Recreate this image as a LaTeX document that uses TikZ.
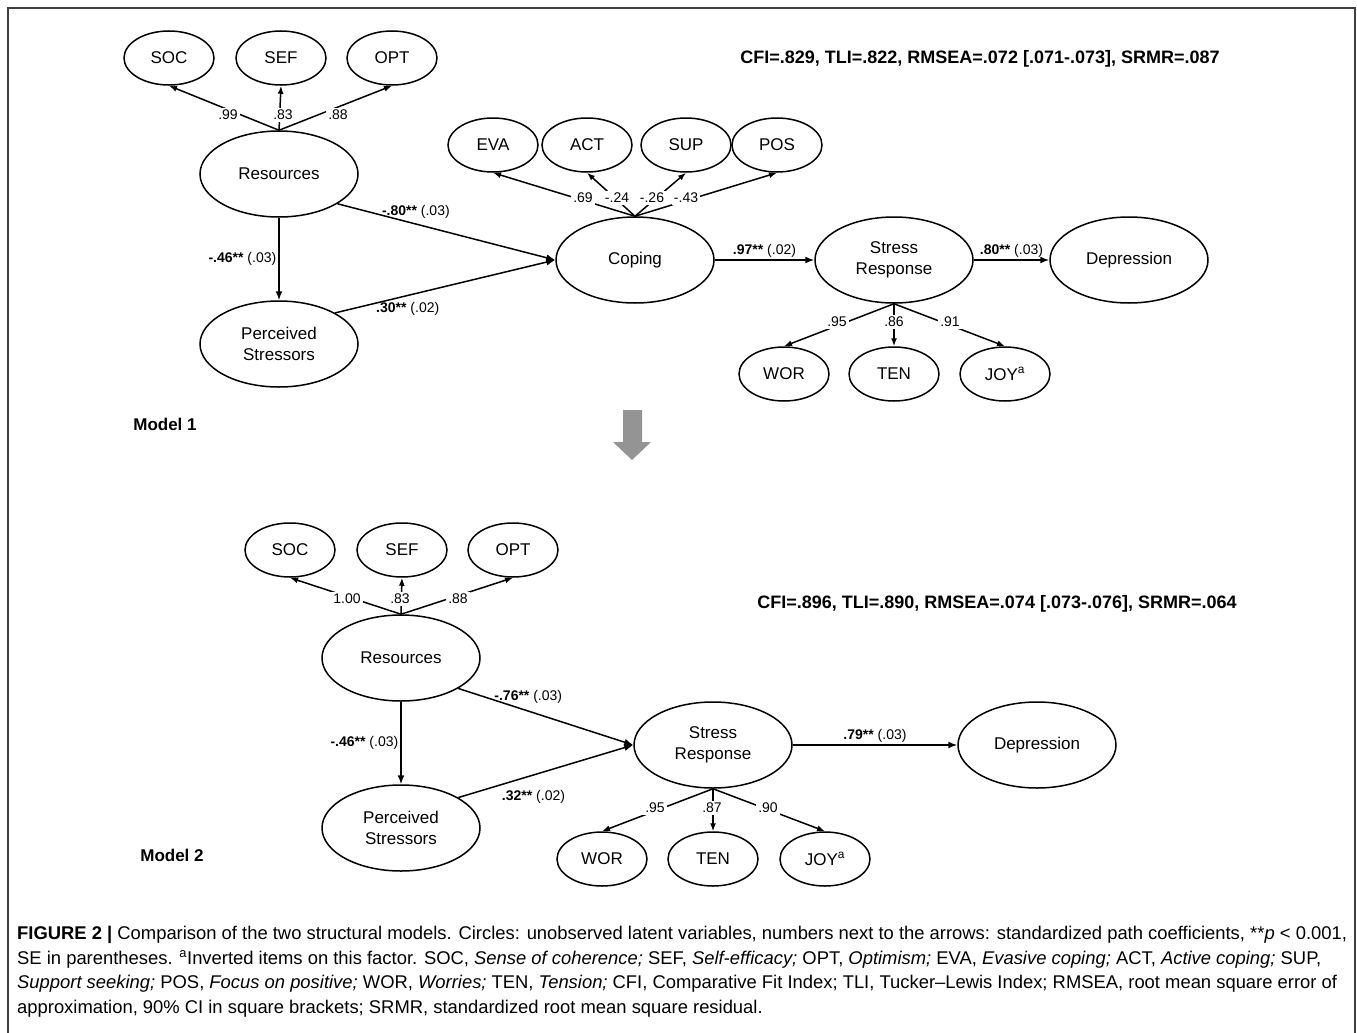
\documentclass[tikz,border=0pt]{standalone}
\usepackage{fontspec}
\setmainfont{Liberation Sans}
\usetikzlibrary{positioning,arrows.meta,shapes.geometric}

\begin{document}
\begin{tikzpicture}[x=1pt,y=-1pt,
  latent/.style={ellipse, draw, line width=1.5pt, minimum width=158pt, minimum height=86pt, inner sep=0pt, align=center, font=\fontsize{17}{21}\selectfont},
  item/.style={ellipse, draw, line width=1.5pt, minimum width=90pt, minimum height=54pt, inner sep=0pt, font=\fontsize{17}{21}\selectfont},
  coef/.style={font=\fontsize{14}{16}\selectfont, inner sep=2pt},
  load/.style={fill=white, font=\fontsize{14}{16}\selectfont, inner sep=2pt},
  arr/.style={-{Latex[length=9pt,width=7pt]}, line width=1.5pt},
  ld/.style={-{Latex[length=8pt,width=6pt]}, line width=1.5pt},
  fitidx/.style={font=\bfseries\fontsize{18}{20}\selectfont},
  modeltag/.style={font=\bfseries\fontsize{17}{20}\selectfont}
]
\useasboundingbox (0,0) rectangle (1357,1033);
\draw[black!75, line width=1.5pt] (8,1033) -- (8,8) -- (1355,8) -- (1355,1033);

% Model 1
\node[latent] (res1) at (279,174) {Resources};
\node[latent] (ps1) at (279,344) {Perceived\\Stressors};
\node[latent] (cop) at (635,260) {Coping};
\node[latent] (sr1) at (894,260) {Stress\\Response};
\node[latent] (dep1) at (1129,260) {Depression};

\node[item] (soc1) at (169,58) {SOC};
\node[item] (sef1) at (281,58) {SEF};
\node[item] (opt1) at (392,58) {OPT};
\node[item] (eva) at (493,145) {EVA};
\node[item] (act) at (587,145) {ACT};
\node[item] (sup) at (686,145) {SUP};
\node[item] (pos) at (777,145) {POS};
\node[item] (wor1) at (784,374) {WOR};
\node[item] (ten1) at (894,374) {TEN};
\node[item] (joy1) at (1005,374) {JOY\textsuperscript{a}};

\draw[ld] (res1.north) -- (soc1.south);
\draw[ld] (res1.north) -- (sef1.south);
\draw[ld] (res1.north) -- (opt1.south);
\draw[ld] (cop.north) -- (eva.south);
\draw[ld] (cop.north) -- (act.south);
\draw[ld] (cop.north) -- (sup.south);
\draw[ld] (cop.north) -- (pos.south);
\draw[ld] (sr1.south) -- (wor1.north);
\draw[ld] (sr1.south) -- (ten1.north);
\draw[ld] (sr1.south) -- (joy1.north);

\node[load] (l-soc1) at (228,115) {.99};
\node[load] (l-sef1) at (283,115) {.83};
\node[load] (l-opt1) at (338,115) {.88};
\node[load] (l-eva) at (583,198) {.69};
\node[load] (l-act) at (617,198) {-.24};
\node[load] (l-sup) at (652,198) {-.26};
\node[load] (l-pos) at (686,198) {-.43};
\node[load] (l-wor1) at (837,322) {.95};
\node[load] (l-ten1) at (894,322) {.86};
\node[load] (l-joy1) at (950,322) {.91};

\draw[arr] (res1.-27) -- node[coef, above, pos=0.36, yshift=3pt] {\textbf{-.80**} (.03)} (cop.west);
\draw[arr] (ps1.29) -- node[coef, below, pos=0.33, yshift=-4pt] {\textbf{.30**} (.02)} (cop.west);
\draw[arr] (res1) -- node[coef, left] {\textbf{-.46**} (.03)} (ps1);
\draw[arr] (cop) -- node[coef, above] {\textbf{.97**} (.02)} (sr1);
\draw[arr] (sr1) -- node[coef, above] {\textbf{.80**} (.03)} (dep1);

\node[fitidx] (fit1) at (980,59) {CFI=.829, TLI=.822, RMSEA=.072 [.071-.073], SRMR=.087};
\node[modeltag] (m1) at (165,424) {Model 1};

% change between the models
\fill[black!42] (623,410) -- (642,410) -- (642,442) -- (651,442) -- (632,460) -- (613,442) -- (623,442) -- cycle;

% Model 2
\node[latent] (res2) at (401,658) {Resources};
\node[latent] (ps2) at (401,828) {Perceived\\Stressors};
\node[latent] (sr2) at (713,745) {Stress\\Response};
\node[latent] (dep2) at (1037,745) {Depression};

\node[item] (soc2) at (290,550) {SOC};
\node[item] (sef2) at (402,550) {SEF};
\node[item] (opt2) at (513,550) {OPT};
\node[item] (wor2) at (602,859) {WOR};
\node[item] (ten2) at (713,859) {TEN};
\node[item] (joy2) at (825,859) {JOY\textsuperscript{a}};

\draw[ld] (res2.north) -- (soc2.south);
\draw[ld] (res2.north) -- (sef2.south);
\draw[ld] (res2.north) -- (opt2.south);
\draw[ld] (sr2.south) -- (wor2.north);
\draw[ld] (sr2.south) -- (ten2.north);
\draw[ld] (sr2.south) -- (joy2.north);

\node[load] (l-soc2) at (347,599) {1.00};
\node[load] (l-sef2) at (400,599) {.83};
\node[load] (l-opt2) at (458,599) {.88};
\node[load] (l-wor2) at (655,808) {.95};
\node[load] (l-ten2) at (712,808) {.87};
\node[load] (l-joy2) at (768,808) {.90};

\draw[arr] (res2.-28) -- node[coef, above, pos=0.4, yshift=5pt] {\textbf{-.76**} (.03)} (sr2.west);
\draw[arr] (ps2.28) -- node[coef, below, pos=0.43, yshift=-13pt] {\textbf{.32**} (.02)} (sr2.west);
\draw[arr] (res2) -- node[coef, left] {\textbf{-.46**} (.03)} (ps2);
\draw[arr] (sr2) -- node[coef, above] {\textbf{.79**} (.03)} (dep2);

\node[fitidx] (fit2) at (997,604) {CFI=.896, TLI=.890, RMSEA=.074 [.073-.076], SRMR=.064};
\node[modeltag] (m2) at (172,855) {Model 2};

% caption
\node[anchor=north west, align=left, inner sep=0pt, font=\fontsize{18.4}{24.5}\selectfont] (cap) at (17,926)
 {\textbf{FIGURE 2 |} Comparison of the two structural models. Circles: unobserved latent variables, numbers next to the arrows: standardized path coefficients, **\textit{p} {<} 0.001,\\
 SE in parentheses. \textsuperscript{a}Inverted items on this factor. SOC, \textit{Sense of coherence;} SEF, \textit{Self-efficacy;} OPT, \textit{Optimism;} EVA, \textit{Evasive coping;} ACT, \textit{Active coping;} SUP,\\
 \textit{Support seeking;} POS, \textit{Focus on positive;} WOR, \textit{Worries;} TEN, \textit{Tension;} CFI, Comparative Fit Index; TLI, Tucker--Lewis Index; RMSEA, root mean square error of\\
 approximation, 90\% CI in square brackets; SRMR, standardized root mean square residual.};
\end{tikzpicture}
\end{document}
